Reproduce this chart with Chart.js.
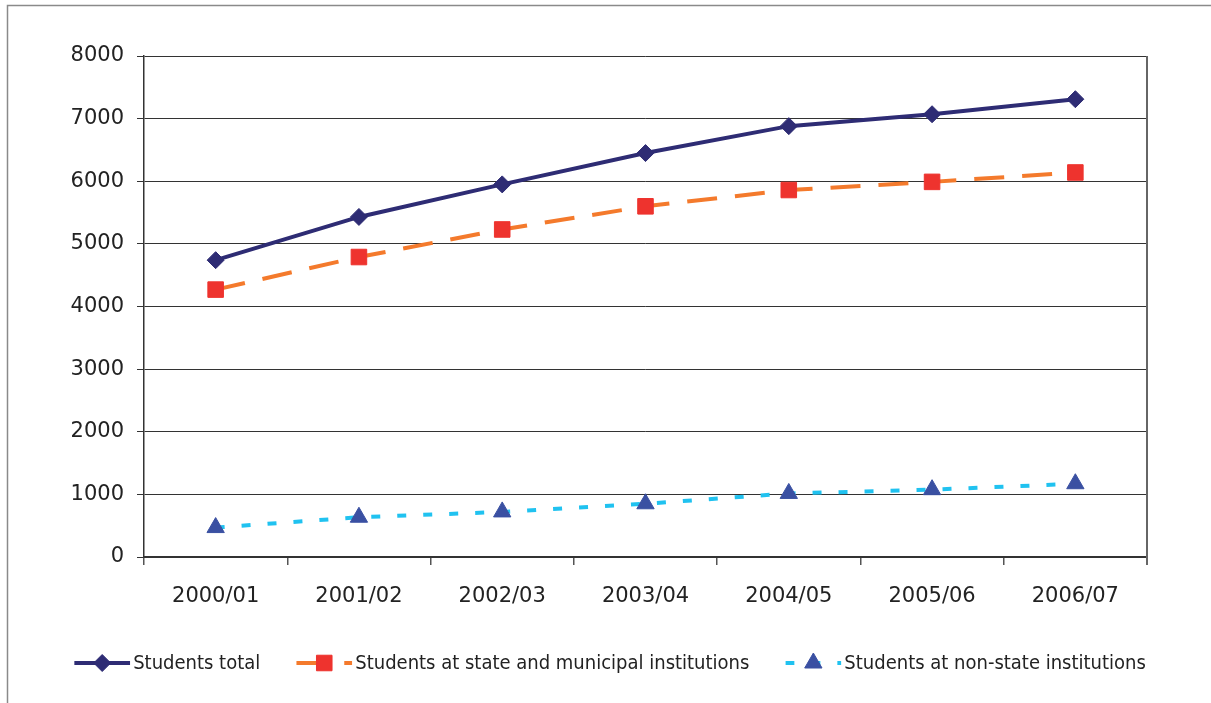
<!DOCTYPE html>
<html>
<head>
<meta charset="utf-8">
<script src="https://cdn.jsdelivr.net/npm/chart.js@4/dist/chart.umd.min.js"></script>
<style>
  html, body { margin: 0; padding: 0; background: #fff; }
  canvas { display: block; }
</style>
</head>
<body>
<canvas id="studentsChart" width="1211" height="703"></canvas>
<script>
// Students by academic year (thousands)
var years = ["2000/01", "2001/02", "2002/03", "2003/04", "2004/05", "2005/06", "2006/07"];
var studentsTotal = [4740, 5430, 5950, 6450, 6880, 7070, 7310];
var stateMunicipal = [4270, 4790, 5230, 5600, 5860, 5990, 6140];
var nonState = [470, 635, 720, 850, 1015, 1075, 1170];

var yMin = 0, yMax = 8000, yStep = 1000;

var axisFont = { family: "DejaVu Sans", size: 21 };
var legendFont = "20px 'DejaVu Sans Condensed', 'DejaVu Sans'";

// outer frame of the figure + right edge of the plot box
var framePlugin = {
  id: "frame",
  beforeDraw: function (chart) {
    var ctx = chart.ctx;
    ctx.save();
    ctx.strokeStyle = "#8a8a8a";
    ctx.lineWidth = 1.5;
    ctx.strokeRect(7.5, 5.5, chart.width + 20, chart.height + 20);
    ctx.restore();
  },
  afterDraw: function (chart) {
    var ctx = chart.ctx, a = chart.chartArea;
    ctx.save();
    ctx.strokeStyle = "#666";
    ctx.lineWidth = 2;
    ctx.beginPath();
    ctx.moveTo(a.right, a.top);
    ctx.lineTo(a.right, a.bottom + 8);
    ctx.stroke();
    ctx.restore();
  }
};

// legend: line sample with the marker in the middle, then the label
var legendPlugin = {
  id: "lineLegend",
  afterDraw: function (chart) {
    var ctx = chart.ctx;
    var sets = chart.data.datasets;
    var sample = 56, textGap = 3, itemGap = 36, y = 663;
    ctx.save();
    ctx.font = legendFont;
    var widths = sets.map(function (ds) { return ctx.measureText(ds.label).width; });
    var total = 0;
    widths.forEach(function (w, i) { total += sample + textGap + w + (i ? itemGap : 0); });
    var x = 610 - total / 2;
    sets.forEach(function (ds, i) {
      ctx.save();
      ctx.beginPath();
      ctx.rect(x, y - 10, sample, 20);
      ctx.clip();
      ctx.strokeStyle = ds.borderColor;
      ctx.lineWidth = ds.borderWidth;
      ctx.setLineDash(ds.borderDash || []);
      ctx.beginPath();
      ctx.moveTo(x, y);
      ctx.lineTo(x + sample, y);
      ctx.stroke();
      ctx.restore();
      ctx.fillStyle = ds.pointBackgroundColor;
      ctx.strokeStyle = ds.pointBorderColor;
      ctx.lineWidth = 1;
      Chart.helpers.drawPoint(ctx, { pointStyle: ds.pointStyle, radius: ds.pointRadius, borderWidth: 1, rotation: 0 }, x + sample / 2, y);
      ctx.fillStyle = "#222";
      ctx.textBaseline = "middle";
      ctx.fillText(ds.label, x + sample + textGap, y + 1);
      x += sample + textGap + widths[i] + itemGap;
    });
    ctx.restore();
  }
};

var ctx = document.getElementById("studentsChart").getContext("2d");
var chart = new Chart(ctx, {
  type: "line",
  data: {
    labels: years,
    datasets: [
      {
        label: "Students total",
        data: studentsTotal,
        borderColor: "#2e2c74",
        borderWidth: 4,
        pointStyle: "rectRot",
        pointRadius: 8.5,
        pointBackgroundColor: "#2e2c74",
        pointBorderColor: "#2e2c74",
        pointBorderWidth: 1
      },
      {
        label: "Students at state and municipal institutions",
        data: stateMunicipal,
        borderColor: "#f47a2c",
        borderWidth: 4,
        borderDash: [30, 18],
        pointStyle: "rect",
        pointRadius: 11,
        pointBackgroundColor: "#ee332e",
        pointBorderColor: "#ee332e",
        pointBorderWidth: 1
      },
      {
        label: "Students at non-state institutions",
        data: nonState,
        borderColor: "#20c2f0",
        borderWidth: 4,
        borderDash: [9, 17],
        pointStyle: "triangle",
        pointRadius: 10,
        pointBackgroundColor: "#3a50a2",
        pointBorderColor: "#3a50a2",
        pointBorderWidth: 1
      }
    ]
  },
  options: {
    responsive: false,
    animation: false,
    layout: { padding: { left: 20, top: 56, right: 64, bottom: 0 } },
    plugins: {
      legend: { display: false },
      tooltip: { enabled: false }
    },
    elements: { line: { tension: 0 } },
    scales: {
      x: {
        offset: true,
        afterFit: function (scale) { scale.height = 146; },
        grid: {
          offset: true,
          drawOnChartArea: false,
          drawTicks: true,
          tickLength: 8,
          color: "#555",
          lineWidth: 1.5
        },
        border: { display: true, color: "#333", width: 2 },
        ticks: { font: axisFont, color: "#222", padding: 19, maxRotation: 0 }
      },
      y: {
        min: yMin,
        max: yMax,
        afterFit: function (scale) { scale.width = 124; },
        grid: { color: "#333", lineWidth: 1, tickLength: 7 },
        border: { display: true, color: "#333", width: 1.5 },
        ticks: {
          stepSize: yStep,
          font: axisFont,
          color: "#222",
          padding: 13,
          callback: function (v) { return String(v); }
        }
      }
    }
  },
  plugins: [framePlugin, legendPlugin]
});
</script>
</body>
</html>
